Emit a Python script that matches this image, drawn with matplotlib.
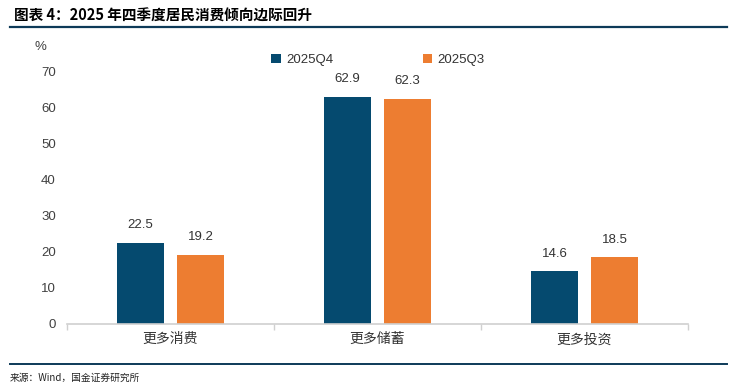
import matplotlib

matplotlib.use("Agg")
import matplotlib.pyplot as plt
import numpy as np

plt.rcParams["font.family"] = ["Noto Sans CJK SC", "DejaVu Sans"]

categories = ["更多消费", "更多储蓄", "更多投资"]
q4 = [22.5, 62.9, 14.6]
q3 = [19.2, 62.3, 18.5]
series_names = ["2025Q4", "2025Q3"]
yticks = [0, 10, 20, 30, 40, 50, 60, 70]

navy, orange, line_col, txt = "#054a6f", "#ed7d31", "#0d3a58", "#404040"

fig = plt.figure(figsize=(7.43, 3.89), dpi=100)
ax = fig.add_axes([67 / 743, 1 - 324 / 389, (688 - 67) / 743, (324 - 71) / 389])

x = np.arange(len(categories))
w, off = 0.23, 0.145
b1 = ax.bar(x - off, q4, width=w, color=navy, label=series_names[0])
b2 = ax.bar(x + off, q3, width=w, color=orange, label=series_names[1])
for bars, vals in ((b1, q4), (b2, q3)):
    for b, v in zip(bars, vals):
        ax.text(b.get_x() + b.get_width() / 2, v + 3.2, f"{v:.1f}",
                ha="center", va="bottom", fontsize=9.5, color="#333333",
                family="Liberation Sans")

ax.set_xlim(-0.5, 2.5)
ax.set_ylim(0, 70)
ax.set_yticks(yticks)
ax.set_yticklabels([str(t) for t in yticks], family="Liberation Sans")
ax.set_xticks(x)
ax.set_xticklabels(categories, fontsize=10, color="#333333")
ax.set_xticks([-0.5, 0.5, 1.5, 2.5], minor=True)
ax.tick_params(axis="x", which="major", length=0, pad=6)
ax.tick_params(axis="x", which="minor", length=4, color="#d0d0d0", width=1)
ax.tick_params(axis="y", length=0, labelsize=9.5, labelcolor=txt, pad=8)
for s in ("top", "right", "left"):
    ax.spines[s].set_visible(False)
ax.spines["bottom"].set_color("#d0d0d0")
ax.spines["bottom"].set_linewidth(1.2)

fig.text(40 / 743, 1 - 47 / 389, "%", fontsize=9.5, color=txt, ha="center",
         va="center", family="Liberation Sans")

leg = ax.legend(loc="upper left", bbox_to_anchor=(0.31, 1.115), ncol=2,
                frameon=False, handlelength=0.7, handleheight=0.7,
                columnspacing=6.8, handletextpad=0.4,
                prop={"family": "Liberation Sans", "size": 9.5})
for t in leg.get_texts():
    t.set_color("#333333")

fig.text(14 / 743, 1 - 16 / 389, "图表 4：2025 年四季度居民消费倾向边际回升",
         fontsize=10.5, fontweight="bold", color="black", va="center")
fig.add_artist(plt.Line2D([10 / 743, 727 / 743], [1 - 27 / 389] * 2,
                          color=line_col, linewidth=1.6))
fig.add_artist(plt.Line2D([10 / 743, 727 / 743], [1 - 364 / 389] * 2,
                          color=line_col, linewidth=1.4))
fig.text(10 / 743, 1 - 378 / 389, "来源：Wind，国金证券研究所", fontsize=7,
         color="#222222", va="center")

fig.savefig("out.png", dpi=100)
